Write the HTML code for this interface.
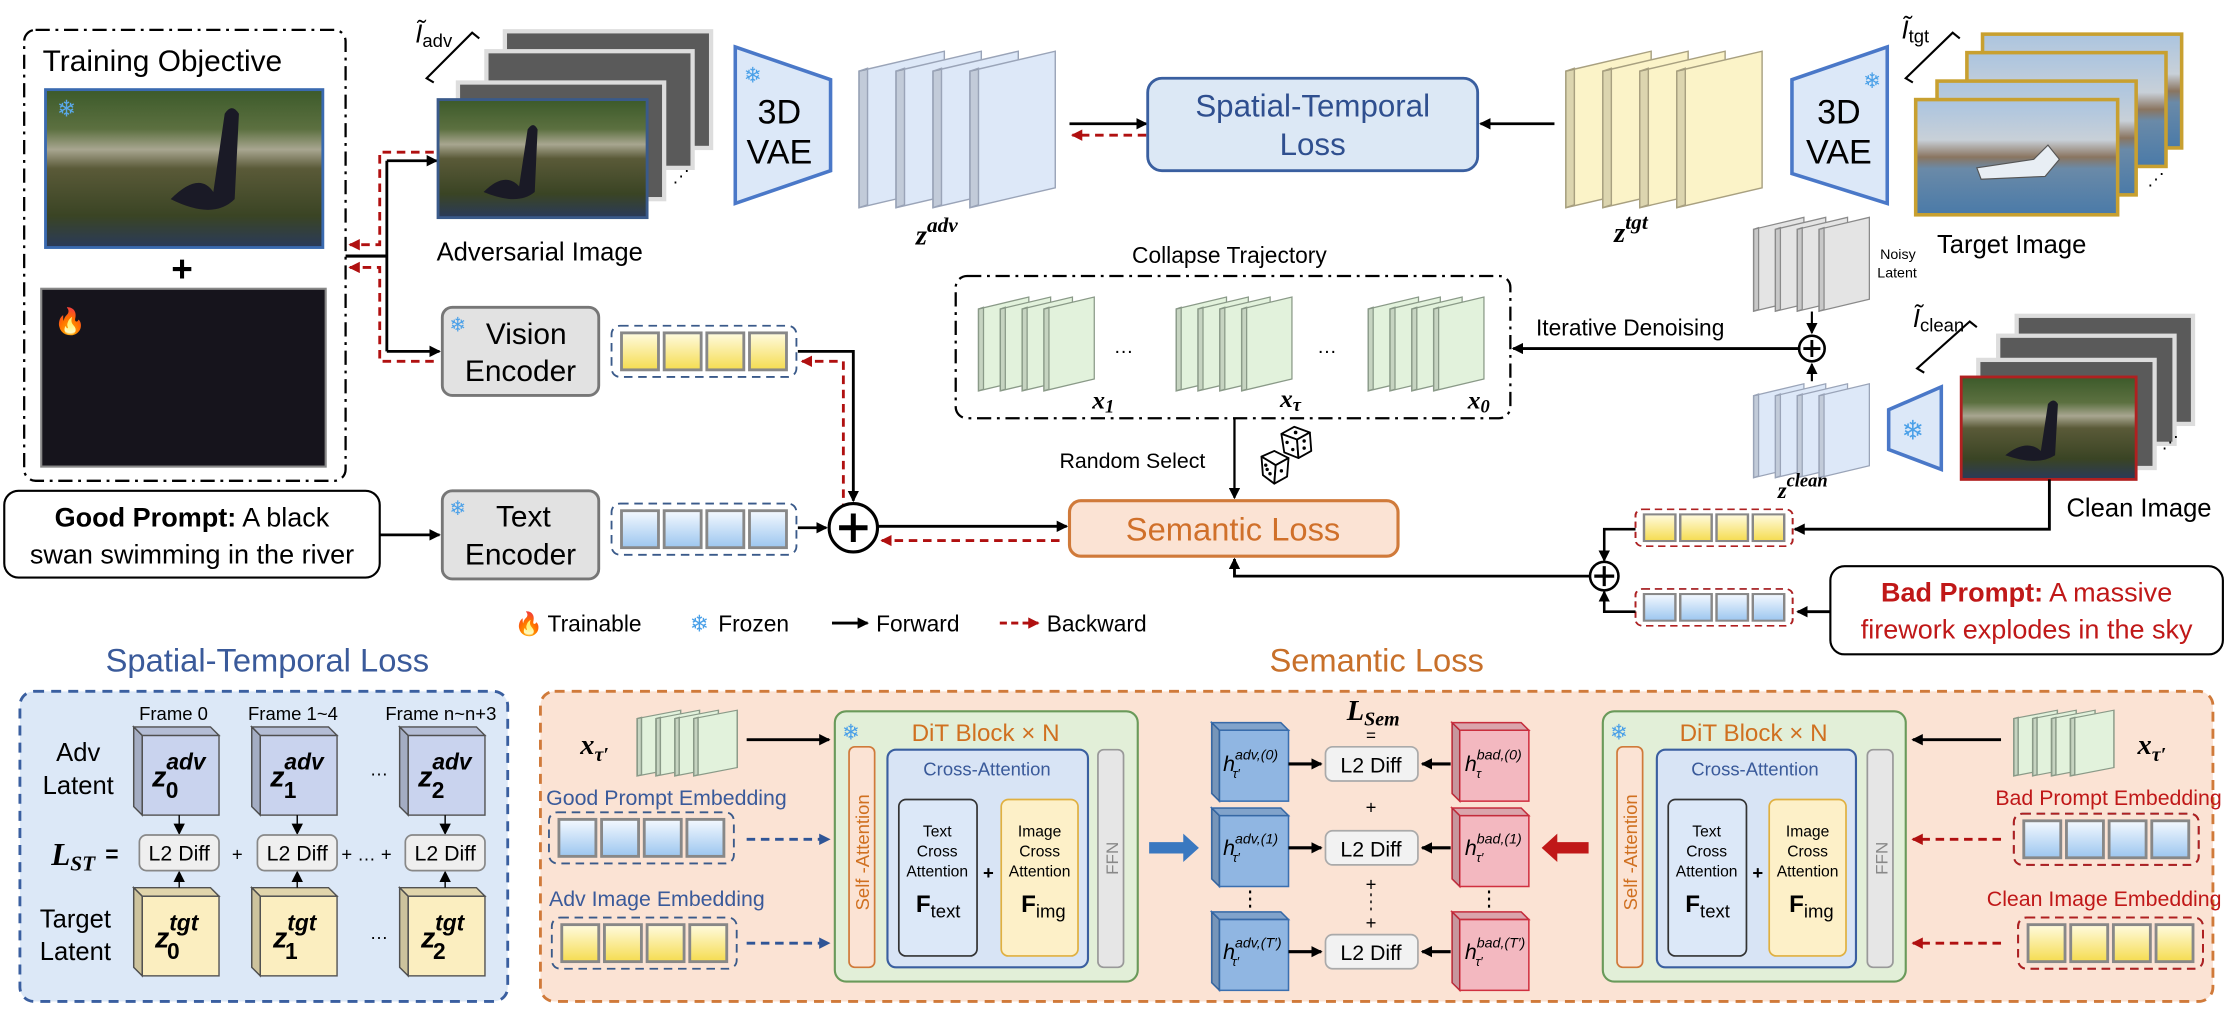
<!DOCTYPE html>
<html><head><meta charset="utf-8"><style>
html,body{margin:0;padding:0;background:#fff;}
svg{display:block;}
text{font-family:"Liberation Sans",sans-serif;}
.m{font-family:"Liberation Serif",serif;font-style:italic;font-weight:bold;}
</style></head><body>
<svg width="2230" height="1010" viewBox="0 0 1568 710" preserveAspectRatio="none" xmlns="http://www.w3.org/2000/svg">
<defs>
<marker id="ab" markerWidth="8" markerHeight="8" refX="7" refY="4" orient="auto" markerUnits="userSpaceOnUse"><path d="M0,0 L8,4 L0,8 z" fill="#000"/></marker>
<marker id="ar" markerWidth="8" markerHeight="8" refX="7" refY="4" orient="auto" markerUnits="userSpaceOnUse"><path d="M0,0 L8,4 L0,8 z" fill="#b01010"/></marker>
<marker id="abl" markerWidth="8" markerHeight="8" refX="7" refY="4" orient="auto" markerUnits="userSpaceOnUse"><path d="M0,0 L8,4 L0,8 z" fill="#2f5596"/></marker>
<linearGradient id="gy" x1="0" y1="0" x2="0" y2="1"><stop offset="0" stop-color="#fffbe0"/><stop offset="1" stop-color="#f5dc50"/></linearGradient>
<linearGradient id="gb" x1="0" y1="0" x2="0" y2="1"><stop offset="0" stop-color="#f4f9ff"/><stop offset="1" stop-color="#9cc6ef"/></linearGradient>
<linearGradient id="swan" x1="0" y1="0" x2="0" y2="1"><stop offset="0" stop-color="#3c5a2a"/><stop offset="0.25" stop-color="#5c7040"/><stop offset="0.38" stop-color="#a8a690"/><stop offset="0.5" stop-color="#5a5a38"/><stop offset="0.8" stop-color="#3a4424"/><stop offset="1" stop-color="#2a3a5a"/></linearGradient>
<linearGradient id="tgt" x1="0" y1="0" x2="0" y2="1"><stop offset="0" stop-color="#aac4e0"/><stop offset="0.35" stop-color="#c8d0d8"/><stop offset="0.5" stop-color="#8a7560"/><stop offset="0.6" stop-color="#6a8aa8"/><stop offset="1" stop-color="#4a7aa8"/></linearGradient>
<g id="stack">
<polygon points="0,17 60,3 60,99 0,113"/><polygon points="0,17 6,15 6,111 0,113" fill="#000" fill-opacity="0.12"/>
<polygon points="26,17 86,3 86,99 26,113"/><polygon points="26,17 32,15 32,111 26,113" fill="#000" fill-opacity="0.12"/>
<polygon points="52,17 112,3 112,99 52,113"/><polygon points="52,17 58,15 58,111 52,113" fill="#000" fill-opacity="0.12"/>
<polygon points="78,17 138,3 138,99 78,113"/><polygon points="78,17 84,15 84,111 78,113" fill="#000" fill-opacity="0.12"/>
</g>
<g id="cube"><rect x="6" y="6" width="54" height="56"/><polygon points="0,0 54,0 60,6 6,6" fill-opacity="1"/><polygon points="0,0 54,0 60,6 6,6" fill="#000" fill-opacity="0.1" stroke="none"/><polygon points="0,0 6,6 6,62 0,56"/><polygon points="0,0 6,6 6,62 0,56" fill="#000" fill-opacity="0.18" stroke="none"/></g>
<g id="tokY"><rect x="0" y="0" width="130" height="36" rx="6" fill="none" stroke="#3a5a8a" stroke-dasharray="6,4" stroke-width="1.3"/>
<rect x="7" y="5" width="26" height="26" fill="url(#gy)" stroke="#888" stroke-width="2"/><rect x="37" y="5" width="26" height="26" fill="url(#gy)" stroke="#888" stroke-width="2"/><rect x="67" y="5" width="26" height="26" fill="url(#gy)" stroke="#888" stroke-width="2"/><rect x="97" y="5" width="26" height="26" fill="url(#gy)" stroke="#888" stroke-width="2"/></g>
<g id="tokB"><rect x="0" y="0" width="130" height="36" rx="6" fill="none" stroke="#3a5a8a" stroke-dasharray="6,4" stroke-width="1.3"/>
<rect x="7" y="5" width="26" height="26" fill="url(#gb)" stroke="#888" stroke-width="2"/><rect x="37" y="5" width="26" height="26" fill="url(#gb)" stroke="#888" stroke-width="2"/><rect x="67" y="5" width="26" height="26" fill="url(#gb)" stroke="#888" stroke-width="2"/><rect x="97" y="5" width="26" height="26" fill="url(#gb)" stroke="#888" stroke-width="2"/></g>
</defs>

<!-- Training objective -->
<rect x="17" y="21" width="226" height="317" rx="8" fill="none" stroke="#000" stroke-width="1.6" stroke-dasharray="10,4,2,4"/>
<text x="30" y="50" font-size="21">Training Objective</text>
<rect x="32" y="63" width="195" height="111" fill="url(#swan)" stroke="#3a6ab0" stroke-width="2"/>
<path d="M120,140 q20,-20 30,-5 l8,-55 q5,-8 10,0 l-3,60 q-15,15 -45,0z" fill="#1a1a26"/>
<text x="40" y="82" font-size="16" fill="#5aa8e8">❄</text>
<text x="128" y="198" font-size="26" font-weight="bold" text-anchor="middle">+</text>
<rect x="29" y="203" width="200" height="125" fill="#16141c" stroke="#888" stroke-width="1.5"/>
<text x="38" y="232" font-size="18" fill="#f07020">🔥</text>

<rect x="3" y="345" width="264" height="61" rx="10" fill="#fff" stroke="#000" stroke-width="1.5"/>
<text x="135" y="370" font-size="19" text-anchor="middle"><tspan font-weight="bold">Good Prompt:</tspan> A black</text>
<text x="135" y="396" font-size="19" text-anchor="middle">swan swimming in the river</text>
<line x1="267" y1="376" x2="309" y2="376" stroke="#000" stroke-width="2" marker-end="url(#ab)"/>

<!-- arrows from training -->
<polyline points="243,180 272,180" fill="none" stroke="#000" stroke-width="2.2"/>
<line x1="272" y1="113" x2="272" y2="247" stroke="#000" stroke-width="2"/>
<line x1="272" y1="113" x2="307" y2="113" stroke="#000" stroke-width="2" marker-end="url(#ab)"/>
<line x1="272" y1="247" x2="309" y2="247" stroke="#000" stroke-width="2" marker-end="url(#ab)"/>
<polyline points="305,107 267,107 267,172 246,172" fill="none" stroke="#b01010" stroke-width="2" stroke-dasharray="6,4" marker-end="url(#ar)"/>
<polyline points="305,254 267,254 267,188 246,188" fill="none" stroke="#b01010" stroke-width="2" stroke-dasharray="6,4" marker-end="url(#ar)"/>

<!-- adv image stack -->
<text x="292" y="30" font-size="18" font-family="Liberation Serif" font-style="italic">Ĩ<tspan font-size="13" font-style="normal" dy="3">adv</tspan></text>
<polyline points="305,58 300,55 332,23 337,27" fill="none" stroke="#000" stroke-width="1.5"/>
<rect x="355" y="22" width="145" height="82" fill="#5a5a5a" stroke="#ddd" stroke-width="3"/>
<rect x="342" y="36" width="145" height="82" fill="#5a5a5a" stroke="#ddd" stroke-width="3"/>
<rect x="322" y="58" width="145" height="82" fill="#5a5a5a" stroke="#ddd" stroke-width="3"/>
<rect x="308" y="70" width="147" height="83" fill="url(#swan)" stroke="#3a5a8a" stroke-width="2"/>
<path d="M340,135 q15,-15 25,-4 l6,-40 q4,-6 7,0 l-2,44 q-12,10 -36,0z" fill="#1a1a26"/>
<text x="473" y="128" font-size="12">⋰</text>
<text x="307" y="183" font-size="18">Adversarial Image</text>

<!-- VAE left -->
<polygon points="517,33 584,56 584,120 517,143" fill="#dce8f8" stroke="#4a78c8" stroke-width="2.5"/>
<text x="523" y="58" font-size="15" fill="#4aa0e8">❄</text>
<text x="548" y="87" font-size="24" text-anchor="middle">3D</text>
<text x="548" y="115" font-size="24" text-anchor="middle">VAE</text>

<!-- z adv -->
<use href="#stack" x="604" y="33" fill="#dde8f8" stroke="#9aa4b8" stroke-width="1"/>
<text x="644" y="172" font-size="20" class="m">z<tspan dy="-9" font-size="15">adv</tspan></text>

<!-- ST loss -->
<line x1="752" y1="87" x2="806" y2="87" stroke="#000" stroke-width="2" marker-end="url(#ab)"/>
<line x1="806" y1="95" x2="754" y2="95" stroke="#b01010" stroke-width="2" stroke-dasharray="6,4" marker-end="url(#ar)"/>
<rect x="807" y="55" width="232" height="65" rx="10" fill="#dce8f5" stroke="#3a5fa0" stroke-width="2"/>
<text x="923" y="82" font-size="22" text-anchor="middle" fill="#2f4f8f">Spatial-Temporal</text>
<text x="923" y="109" font-size="22" text-anchor="middle" fill="#2f4f8f">Loss</text>
<line x1="1093" y1="87" x2="1041" y2="87" stroke="#000" stroke-width="2" marker-end="url(#ab)"/>

<!-- z tgt -->
<use href="#stack" x="1101" y="33" fill="#fbf3c8" stroke="#a8a080" stroke-width="1"/>
<text x="1135" y="170" font-size="20" class="m">z<tspan dy="-9" font-size="15">tgt</tspan></text>

<!-- VAE right -->
<polygon points="1327,33 1260,56 1260,122 1327,143" fill="#dce8f8" stroke="#4a78c8" stroke-width="2.5"/>
<text x="1310" y="62" font-size="15" fill="#4aa0e8">❄</text>
<text x="1293" y="87" font-size="24" text-anchor="middle">3D</text>
<text x="1293" y="115" font-size="24" text-anchor="middle">VAE</text>

<!-- target images -->
<text x="1337" y="27" font-size="18" font-family="Liberation Serif" font-style="italic">Ĩ<tspan font-size="13" font-style="normal" dy="3">tgt</tspan></text>
<polyline points="1345,58 1340,55 1373,23 1378,27" fill="none" stroke="#000" stroke-width="1.5"/>
<rect x="1394" y="24" width="140" height="80" fill="url(#tgt)" stroke="#c8a030" stroke-width="2.5"/>
<rect x="1383" y="37" width="140" height="80" fill="url(#tgt)" stroke="#c8a030" stroke-width="2.5"/>
<rect x="1362" y="57" width="140" height="80" fill="url(#tgt)" stroke="#c8a030" stroke-width="2.5"/>
<rect x="1347" y="70" width="142" height="81" fill="url(#tgt)" stroke="#c8a030" stroke-width="2.5"/>
<path d="M1390,118 l40,-6 l10,-10 l8,10 l-10,12 l-45,2z" fill="#e8eef4" stroke="#555" stroke-width="0.8"/>
<text x="1510" y="130" font-size="12">⋰</text>
<text x="1362" y="178" font-size="18">Target Image</text>

<!-- noisy latent -->
<use href="#stack" transform="translate(1233,151) scale(0.59,0.6)" fill="#e4e4e4" stroke="#8a8a8a" stroke-width="1.5"/>
<text x="1322" y="182" font-size="10">Noisy</text>
<text x="1320" y="195" font-size="10">Latent</text>
<line x1="1274" y1="219" x2="1274" y2="234" stroke="#000" stroke-width="1.5" marker-end="url(#ab)"/>
<circle cx="1274" cy="245" r="9" fill="#fff" stroke="#000" stroke-width="1.8"/>
<path d="M1268,245 h12 M1274,239 v12" stroke="#000" stroke-width="2"/>
<line x1="1274" y1="268" x2="1274" y2="256" stroke="#000" stroke-width="1.5" marker-end="url(#ab)"/>
<use href="#stack" transform="translate(1233,268) scale(0.59,0.6)" fill="#dde8f8" stroke="#9aa4b8" stroke-width="1.5"/>
<text x="1250" y="350" font-size="16" class="m">z<tspan dy="-8" font-size="13">clean</tspan></text>

<!-- small VAE -->
<polygon points="1365,272 1328,288 1328,316 1365,330" fill="#dce8f8" stroke="#4a78c8" stroke-width="2.5"/>
<text x="1337" y="309" font-size="19" fill="#4aa0e8">❄</text>

<!-- clean image -->
<text x="1345" y="230" font-size="18" font-family="Liberation Serif" font-style="italic">Ĩ<tspan font-size="13" font-style="normal" dy="3">clean</tspan></text>
<polyline points="1353,262 1348,259 1385,226 1390,230" fill="none" stroke="#000" stroke-width="1.5"/>
<rect x="1418" y="222" width="124" height="76" fill="#5a5a5a" stroke="#ddd" stroke-width="3"/>
<rect x="1405" y="236" width="124" height="76" fill="#5a5a5a" stroke="#ddd" stroke-width="3"/>
<rect x="1391" y="253" width="124" height="76" fill="#5a5a5a" stroke="#ddd" stroke-width="3"/>
<rect x="1379" y="265" width="123" height="72" fill="url(#swan)" stroke="#b02020" stroke-width="2"/>
<path d="M1410,320 q15,-12 25,-3 l5,-33 q4,-5 7,0 l-2,36 q-12,8 -35,0z" fill="#1a1a26"/>
<text x="1520" y="315" font-size="12">⋰</text>
<text x="1453" y="363" font-size="18">Clean Image</text>

<!-- collapse trajectory -->
<text x="796" y="185" font-size="16">Collapse Trajectory</text>
<rect x="672" y="194" width="390" height="100" rx="8" fill="none" stroke="#000" stroke-width="1.6" stroke-dasharray="10,4,2,4"/>
<use href="#stack" transform="translate(688,207) scale(0.59,0.6)" fill="#e2f2dc" stroke="#8a9a88" stroke-width="1.5"/>
<use href="#stack" transform="translate(827,207) scale(0.59,0.6)" fill="#e2f2dc" stroke="#8a9a88" stroke-width="1.5"/>
<use href="#stack" transform="translate(962,207) scale(0.59,0.6)" fill="#e2f2dc" stroke="#8a9a88" stroke-width="1.5"/>
<text x="768" y="287" font-size="18" class="m">x<tspan dy="3" font-size="13">1</tspan></text>
<text x="900" y="286" font-size="18" class="m">x<tspan dy="3" font-size="13">τ</tspan></text>
<text x="1032" y="287" font-size="18" class="m">x<tspan dy="3" font-size="13">0</tspan></text>
<text x="783" y="248" font-size="14">…</text>
<text x="926" y="248" font-size="14">…</text>
<line x1="1266" y1="245" x2="1064" y2="245" stroke="#000" stroke-width="2" marker-end="url(#ab)"/>
<text x="1080" y="236" font-size="16">Iterative Denoising</text>

<!-- random select -->
<line x1="868" y1="294" x2="868" y2="350" stroke="#000" stroke-width="1.6" marker-end="url(#ab)"/>
<text x="745" y="329" font-size="15">Random Select</text>
<g stroke="#000" stroke-width="1.3" fill="#fff" stroke-linejoin="round">
<polygon points="901,305 910,300 921,304 912,309"/><polygon points="901,305 912,309 913,322 903,318"/><polygon points="912,309 921,304 922,317 913,322"/>
<polygon points="887,321 896,317 906,322 897,327"/><polygon points="887,321 897,327 896,340 888,334"/><polygon points="897,327 906,322 905,335 896,340"/>
</g>
<g fill="#000"><circle cx="911" cy="304" r="1.3"/><circle cx="905" cy="311" r="1.2"/><circle cx="909" cy="316" r="1.2"/><circle cx="917" cy="310" r="1.2"/><circle cx="917" cy="315" r="1.2"/><circle cx="890" cy="327" r="1.2"/><circle cx="893" cy="333" r="1.2"/><circle cx="891" cy="330" r="1.2"/><circle cx="901" cy="331" r="1.2"/></g>

<!-- semantic loss -->
<rect x="752" y="352" width="231" height="39" rx="8" fill="#fbe3d4" stroke="#d07a3a" stroke-width="2.2"/>
<text x="867" y="380" font-size="23" text-anchor="middle" fill="#d0702a">Semantic Loss</text>

<!-- vision/text encoders -->
<rect x="311" y="216" width="110" height="62" rx="7" fill="#e2e2e2" stroke="#777" stroke-width="2"/>
<text x="316" y="233" font-size="14" fill="#4aa0e8">❄</text>
<text x="370" y="242" font-size="21" text-anchor="middle">Vision</text>
<text x="366" y="268" font-size="21" text-anchor="middle">Encoder</text>
<rect x="311" y="345" width="110" height="62" rx="7" fill="#e2e2e2" stroke="#777" stroke-width="2"/>
<text x="316" y="362" font-size="14" fill="#4aa0e8">❄</text>
<text x="368" y="370" font-size="21" text-anchor="middle">Text</text>
<text x="366" y="397" font-size="21" text-anchor="middle">Encoder</text>
<use href="#tokY" x="430" y="229"/>
<use href="#tokB" x="430" y="354"/>
<polyline points="561,247 600,247 600,352" fill="none" stroke="#000" stroke-width="2" marker-end="url(#ab)"/>
<polyline points="593,380 593,254 564,254" fill="none" stroke="#b01010" stroke-width="2" stroke-dasharray="6,4" marker-end="url(#ar)"/>
<line x1="561" y1="371" x2="581" y2="371" stroke="#000" stroke-width="2" marker-end="url(#ab)"/>
<circle cx="600" cy="371" r="17" fill="#fff" stroke="#000" stroke-width="2.2"/>
<path d="M590,371 h20 M600,361 v20" stroke="#000" stroke-width="3.5"/>
<line x1="617" y1="370" x2="750" y2="370" stroke="#000" stroke-width="2" marker-end="url(#ab)"/>
<line x1="745" y1="380" x2="620" y2="380" stroke="#b01010" stroke-width="2" stroke-dasharray="6,4" marker-end="url(#ar)"/>

<!-- bad prompt side -->
<g transform="translate(1150,358) scale(0.85,0.72)"><use href="#tokY"/><rect x="0" y="0" width="130" height="36" rx="6" fill="none" stroke="#b02020" stroke-dasharray="6,4" stroke-width="1.6"/></g>
<g transform="translate(1150,414) scale(0.85,0.72)"><use href="#tokB"/><rect x="0" y="0" width="130" height="36" rx="6" fill="none" stroke="#b02020" stroke-dasharray="6,4" stroke-width="1.6"/></g>
<polyline points="1441,337 1441,372 1262,372" fill="none" stroke="#000" stroke-width="2" marker-end="url(#ab)"/>
<polyline points="1150,372 1128,372 1128,394" fill="none" stroke="#000" stroke-width="1.8" marker-end="url(#ab)"/>
<polyline points="1150,430 1128,430 1128,416" fill="none" stroke="#000" stroke-width="1.8" marker-end="url(#ab)"/>
<circle cx="1128" cy="405" r="10" fill="#fff" stroke="#000" stroke-width="1.8"/>
<path d="M1121,405 h14 M1128,398 v14" stroke="#000" stroke-width="2.2"/>
<polyline points="1118,405 868,405 868,393" fill="none" stroke="#000" stroke-width="2" marker-end="url(#ab)"/>
<rect x="1287" y="398" width="276" height="62" rx="10" fill="#fff" stroke="#000" stroke-width="1.5"/>
<text x="1425" y="423" font-size="19" text-anchor="middle" fill="#c01818"><tspan font-weight="bold">Bad Prompt:</tspan> A massive</text>
<text x="1425" y="449" font-size="19" text-anchor="middle" fill="#c01818">firework explodes in the sky</text>
<line x1="1287" y1="430" x2="1264" y2="430" stroke="#000" stroke-width="2" marker-end="url(#ab)"/>

<!-- legend -->
<text x="362" y="444" font-size="16" fill="#f07020">🔥</text>
<text x="385" y="444" font-size="16">Trainable</text>
<text x="485" y="444" font-size="16" fill="#4aa0e8">❄</text>
<text x="505" y="444" font-size="16">Frozen</text>
<line x1="585" y1="438" x2="610" y2="438" stroke="#000" stroke-width="2" marker-end="url(#ab)"/>
<text x="616" y="444" font-size="16">Forward</text>
<line x1="703" y1="438" x2="730" y2="438" stroke="#b01010" stroke-width="2" stroke-dasharray="5,3" marker-end="url(#ar)"/>
<text x="736" y="444" font-size="16">Backward</text>

<!-- ST panel -->
<text x="188" y="472" font-size="23" text-anchor="middle" fill="#3a5a9a">Spatial-Temporal Loss</text>
<rect x="14" y="486" width="343" height="218" rx="10" fill="#dce8f7" stroke="#3a5fa0" stroke-width="2" stroke-dasharray="7,5"/>
<text x="122" y="506" font-size="13" text-anchor="middle">Frame 0</text>
<text x="206" y="506" font-size="13" text-anchor="middle">Frame 1~4</text>
<text x="310" y="506" font-size="13" text-anchor="middle">Frame n~n+3</text>
<text x="55" y="535" font-size="18" text-anchor="middle">Adv</text>
<text x="55" y="558" font-size="18" text-anchor="middle">Latent</text>
<text x="53" y="652" font-size="18" text-anchor="middle">Target</text>
<text x="53" y="675" font-size="18" text-anchor="middle">Latent</text>
<use href="#cube" x="94" y="511" fill="#c9d3ee" stroke="#555" stroke-width="1"/>
<use href="#cube" x="177" y="511" fill="#c9d3ee" stroke="#555" stroke-width="1"/>
<use href="#cube" x="281" y="511" fill="#c9d3ee" stroke="#555" stroke-width="1"/>
<use href="#cube" x="94" y="624" fill="#fbeec0" stroke="#555" stroke-width="1"/>
<use href="#cube" x="177" y="624" fill="#fbeec0" stroke="#555" stroke-width="1"/>
<use href="#cube" x="281" y="624" fill="#fbeec0" stroke="#555" stroke-width="1"/>
<g class="m" font-size="20">
<text x="107" y="553">z<tspan font-size="16" dy="-12">adv</tspan><tspan font-size="16" dx="-28" dy="20" font-style="normal">0</tspan></text>
<text x="190" y="553">z<tspan font-size="16" dy="-12">adv</tspan><tspan font-size="16" dx="-28" dy="20" font-style="normal">1</tspan></text>
<text x="294" y="553">z<tspan font-size="16" dy="-12">adv</tspan><tspan font-size="16" dx="-28" dy="20" font-style="normal">2</tspan></text>
<text x="109" y="666">z<tspan font-size="16" dy="-12">tgt</tspan><tspan font-size="16" dx="-22" dy="20" font-style="normal">0</tspan></text>
<text x="192" y="666">z<tspan font-size="16" dy="-12">tgt</tspan><tspan font-size="16" dx="-22" dy="20" font-style="normal">1</tspan></text>
<text x="296" y="666">z<tspan font-size="16" dy="-12">tgt</tspan><tspan font-size="16" dx="-22" dy="20" font-style="normal">2</tspan></text>
</g>
<text x="260" y="545" font-size="13">…</text>
<text x="260" y="660" font-size="13">…</text>
<g stroke="#000" stroke-width="1">
<line x1="126" y1="573" x2="126" y2="586" marker-end="url(#ab)"/><line x1="209" y1="573" x2="209" y2="586" marker-end="url(#ab)"/><line x1="313" y1="573" x2="313" y2="586" marker-end="url(#ab)"/>
<line x1="126" y1="624" x2="126" y2="613" marker-end="url(#ab)"/><line x1="209" y1="624" x2="209" y2="613" marker-end="url(#ab)"/><line x1="313" y1="624" x2="313" y2="613" marker-end="url(#ab)"/>
</g>
<rect x="98" y="587" width="56" height="25" rx="5" fill="#efefef" stroke="#888" stroke-width="1.2"/>
<rect x="181" y="587" width="56" height="25" rx="5" fill="#efefef" stroke="#888" stroke-width="1.2"/>
<rect x="285" y="587" width="56" height="25" rx="5" fill="#efefef" stroke="#888" stroke-width="1.2"/>
<text x="126" y="605" font-size="15" text-anchor="middle">L2 Diff</text>
<text x="209" y="605" font-size="15" text-anchor="middle">L2 Diff</text>
<text x="313" y="605" font-size="15" text-anchor="middle">L2 Diff</text>
<text x="36" y="608" class="m" font-size="22">L<tspan font-size="15" dy="4">ST</tspan></text>
<text x="74" y="606" font-size="16" font-weight="bold">=</text>
<text x="163" y="605" font-size="13">+</text>
<text x="240" y="605" font-size="13">+ … +</text>

<!-- Semantic panel -->
<text x="968" y="472" font-size="23" text-anchor="middle" fill="#c8702a">Semantic Loss</text>
<rect x="380" y="486" width="1176" height="218" rx="10" fill="#fbe3d4" stroke="#d07a3a" stroke-width="2" stroke-dasharray="7,5"/>

<!-- left DiT inputs -->
<text x="408" y="530" font-size="20" class="m" font-weight="normal">x<tspan font-size="14" dy="5">τ′</tspan></text>
<use href="#stack" transform="translate(448,498) scale(0.51,0.42)" fill="#e2f2dc" stroke="#8a9a88" stroke-width="2"/>
<line x1="525" y1="520" x2="583" y2="520" stroke="#000" stroke-width="2" marker-end="url(#ab)"/>
<text x="384" y="566" font-size="15" fill="#3a5a9a">Good Prompt Embedding</text>
<use href="#tokB" x="386" y="571"/>
<line x1="525" y1="590" x2="583" y2="590" stroke="#2f5596" stroke-width="2" stroke-dasharray="6,4" marker-end="url(#abl)"/>
<text x="386" y="637" font-size="15" fill="#3a5a9a">Adv Image Embedding</text>
<use href="#tokY" x="388" y="645"/>
<line x1="525" y1="663" x2="583" y2="663" stroke="#2f5596" stroke-width="2" stroke-dasharray="6,4" marker-end="url(#abl)"/>

<!-- left DiT -->
<rect x="587" y="500" width="213" height="190" rx="8" fill="#e2efd8" stroke="#6a9a5a" stroke-width="1.5"/>
<text x="592" y="520" font-size="15" fill="#4aa0e8">❄</text>
<text x="693" y="521" font-size="17" text-anchor="middle" fill="#d07020">DiT Block × N</text>
<rect x="597" y="525" width="18" height="155" rx="4" fill="#fbe3d4" stroke="#d07a3a" stroke-width="1.2"/>
<text transform="translate(611,640) rotate(-90)" font-size="13" fill="#d07020">Self -Attention</text>
<rect x="624" y="527" width="141" height="153" rx="6" fill="#d8e4f5" stroke="#3a5fa0" stroke-width="1.5"/>
<text x="694" y="545" font-size="13" text-anchor="middle" fill="#3a5a9a">Cross-Attention</text>
<rect x="632" y="562" width="55" height="110" rx="5" fill="#dce8f8" stroke="#333" stroke-width="1.2"/>
<rect x="704" y="562" width="54" height="110" rx="5" fill="#fdf0c8" stroke="#e0b040" stroke-width="1.2"/>
<g font-size="11" text-anchor="middle"><text x="659" y="588">Text</text><text x="659" y="602">Cross</text><text x="659" y="616">Attention</text>
<text x="731" y="588">Image</text><text x="731" y="602">Cross</text><text x="731" y="616">Attention</text></g>
<text x="695" y="618" font-size="13" font-weight="bold" text-anchor="middle">+</text>
<text x="644" y="641" font-size="17" font-family="Liberation Serif" font-weight="bold">F<tspan font-size="13" dy="4" font-weight="normal">text</tspan></text>
<text x="718" y="641" font-size="17" font-family="Liberation Serif" font-weight="bold">F<tspan font-size="13" dy="4" font-weight="normal">img</tspan></text>
<rect x="772" y="527" width="18" height="153" rx="4" fill="#e6e6e6" stroke="#999" stroke-width="1.2"/>
<text transform="translate(786,615) rotate(-90)" font-size="12" fill="#888">FFN</text>

<!-- center -->
<polygon points="808,592 832,592 832,586 843,596 832,606 832,600 808,600" fill="#3a78c0"/>
<polygon points="1117,592 1095,592 1095,586 1084,596 1095,606 1095,600 1117,600" fill="#c01818"/>
<text x="947" y="506" class="m" font-size="20">L<tspan font-size="14" dy="4">Sem</tspan></text>
<text x="964" y="521" font-size="12" text-anchor="middle">=</text>
<use href="#cube" transform="translate(852,508) scale(0.9,0.89)" fill="#90b6e2" stroke="#3a6fb0" stroke-width="1.2"/>
<use href="#cube" transform="translate(852,568) scale(0.9,0.89)" fill="#90b6e2" stroke="#3a6fb0" stroke-width="1.2"/>
<use href="#cube" transform="translate(852,641) scale(0.9,0.89)" fill="#90b6e2" stroke="#3a6fb0" stroke-width="1.2"/>
<use href="#cube" transform="translate(1021,508) scale(0.9,0.89)" fill="#f3b8c0" stroke="#d03040" stroke-width="1.2"/>
<use href="#cube" transform="translate(1021,568) scale(0.9,0.89)" fill="#f3b8c0" stroke="#d03040" stroke-width="1.2"/>
<use href="#cube" transform="translate(1021,641) scale(0.9,0.89)" fill="#f3b8c0" stroke="#d03040" stroke-width="1.2"/>
<g font-family="Liberation Serif" font-style="italic" font-size="15">
<text x="860" y="542">h<tspan font-size="10" dy="-8">adv,(0)</tspan><tspan font-size="9" dx="-32" dy="13">τ′</tspan></text>
<text x="860" y="601">h<tspan font-size="10" dy="-8">adv,(1)</tspan><tspan font-size="9" dx="-32" dy="13">τ′</tspan></text>
<text x="860" y="674">h<tspan font-size="10" dy="-8">adv,(T′)</tspan><tspan font-size="9" dx="-35" dy="13">τ′</tspan></text>
<text x="1030" y="542">h<tspan font-size="10" dy="-8">bad,(0)</tspan><tspan font-size="9" dx="-32" dy="13">τ</tspan></text>
<text x="1030" y="601">h<tspan font-size="10" dy="-8">bad,(1)</tspan><tspan font-size="9" dx="-32" dy="13">τ′</tspan></text>
<text x="1030" y="674">h<tspan font-size="10" dy="-8">bad,(T′)</tspan><tspan font-size="9" dx="-35" dy="13">τ′</tspan></text>
</g>
<g stroke="#000" stroke-width="2.2">
<line x1="906" y1="537" x2="929" y2="537" marker-end="url(#ab)"/><line x1="906" y1="596" x2="929" y2="596" marker-end="url(#ab)"/><line x1="906" y1="669" x2="929" y2="669" marker-end="url(#ab)"/>
<line x1="1020" y1="537" x2="1000" y2="537" marker-end="url(#ab)"/><line x1="1020" y1="596" x2="1000" y2="596" marker-end="url(#ab)"/><line x1="1020" y1="669" x2="1000" y2="669" marker-end="url(#ab)"/>
</g>
<rect x="932" y="525" width="65" height="24" rx="5" fill="#f2f2f2" stroke="#aaa" stroke-width="1.2"/>
<rect x="932" y="584" width="65" height="24" rx="5" fill="#f2f2f2" stroke="#aaa" stroke-width="1.2"/>
<rect x="932" y="657" width="65" height="24" rx="5" fill="#f2f2f2" stroke="#aaa" stroke-width="1.2"/>
<text x="964" y="543" font-size="15" text-anchor="middle">L2 Diff</text>
<text x="964" y="602" font-size="15" text-anchor="middle">L2 Diff</text>
<text x="964" y="675" font-size="15" text-anchor="middle">L2 Diff</text>
<text x="964" y="572" font-size="13" text-anchor="middle">+</text>
<text x="964" y="626" font-size="13" text-anchor="middle">+</text>
<text x="964" y="653" font-size="13" text-anchor="middle">+</text>
<line x1="964" y1="628" x2="964" y2="642" stroke="#000" stroke-dasharray="2,3"/>
<line x1="879" y1="626" x2="879" y2="638" stroke="#000" stroke-dasharray="2,3" stroke-width="1.5"/>
<line x1="1047" y1="626" x2="1047" y2="638" stroke="#000" stroke-dasharray="2,3" stroke-width="1.5"/>

<!-- right DiT -->
<rect x="1127" y="500" width="213" height="190" rx="8" fill="#e2efd8" stroke="#6a9a5a" stroke-width="1.5"/>
<text x="1132" y="520" font-size="15" fill="#4aa0e8">❄</text>
<text x="1233" y="521" font-size="17" text-anchor="middle" fill="#d07020">DiT Block × N</text>
<rect x="1137" y="525" width="18" height="155" rx="4" fill="#fbe3d4" stroke="#d07a3a" stroke-width="1.2"/>
<text transform="translate(1151,640) rotate(-90)" font-size="13" fill="#d07020">Self -Attention</text>
<rect x="1165" y="527" width="140" height="153" rx="6" fill="#d8e4f5" stroke="#3a5fa0" stroke-width="1.5"/>
<text x="1234" y="545" font-size="13" text-anchor="middle" fill="#3a5a9a">Cross-Attention</text>
<rect x="1173" y="562" width="55" height="110" rx="5" fill="#dce8f8" stroke="#333" stroke-width="1.2"/>
<rect x="1244" y="562" width="54" height="110" rx="5" fill="#fdf0c8" stroke="#e0b040" stroke-width="1.2"/>
<g font-size="11" text-anchor="middle"><text x="1200" y="588">Text</text><text x="1200" y="602">Cross</text><text x="1200" y="616">Attention</text>
<text x="1271" y="588">Image</text><text x="1271" y="602">Cross</text><text x="1271" y="616">Attention</text></g>
<text x="1236" y="618" font-size="13" font-weight="bold" text-anchor="middle">+</text>
<text x="1185" y="641" font-size="17" font-family="Liberation Serif" font-weight="bold">F<tspan font-size="13" dy="4" font-weight="normal">text</tspan></text>
<text x="1258" y="641" font-size="17" font-family="Liberation Serif" font-weight="bold">F<tspan font-size="13" dy="4" font-weight="normal">img</tspan></text>
<rect x="1313" y="527" width="18" height="153" rx="4" fill="#e6e6e6" stroke="#999" stroke-width="1.2"/>
<text transform="translate(1327,615) rotate(-90)" font-size="12" fill="#888">FFN</text>

<!-- right inputs -->
<use href="#stack" transform="translate(1416,498) scale(0.51,0.42)" fill="#e2f2dc" stroke="#8a9a88" stroke-width="2"/>
<line x1="1407" y1="520" x2="1345" y2="520" stroke="#000" stroke-width="2" marker-end="url(#ab)"/>
<text x="1503" y="530" font-size="20" class="m" font-weight="normal">x<tspan font-size="14" dy="5">τ′</tspan></text>
<text x="1403" y="566" font-size="15" fill="#c01818">Bad Prompt Embedding</text>
<g transform="translate(1416,572)"><use href="#tokB"/><rect x="0" y="0" width="130" height="36" rx="6" fill="none" stroke="#b02020" stroke-dasharray="6,4" stroke-width="1.4"/></g>
<line x1="1407" y1="590" x2="1345" y2="590" stroke="#b01010" stroke-width="2" stroke-dasharray="6,4" marker-end="url(#ar)"/>
<text x="1397" y="637" font-size="15" fill="#c01818">Clean Image Embedding</text>
<g transform="translate(1419,645)"><use href="#tokY"/><rect x="0" y="0" width="130" height="36" rx="6" fill="none" stroke="#b02020" stroke-dasharray="6,4" stroke-width="1.4"/></g>
<line x1="1407" y1="663" x2="1345" y2="663" stroke="#b01010" stroke-width="2" stroke-dasharray="6,4" marker-end="url(#ar)"/>
</svg>
</body></html>
